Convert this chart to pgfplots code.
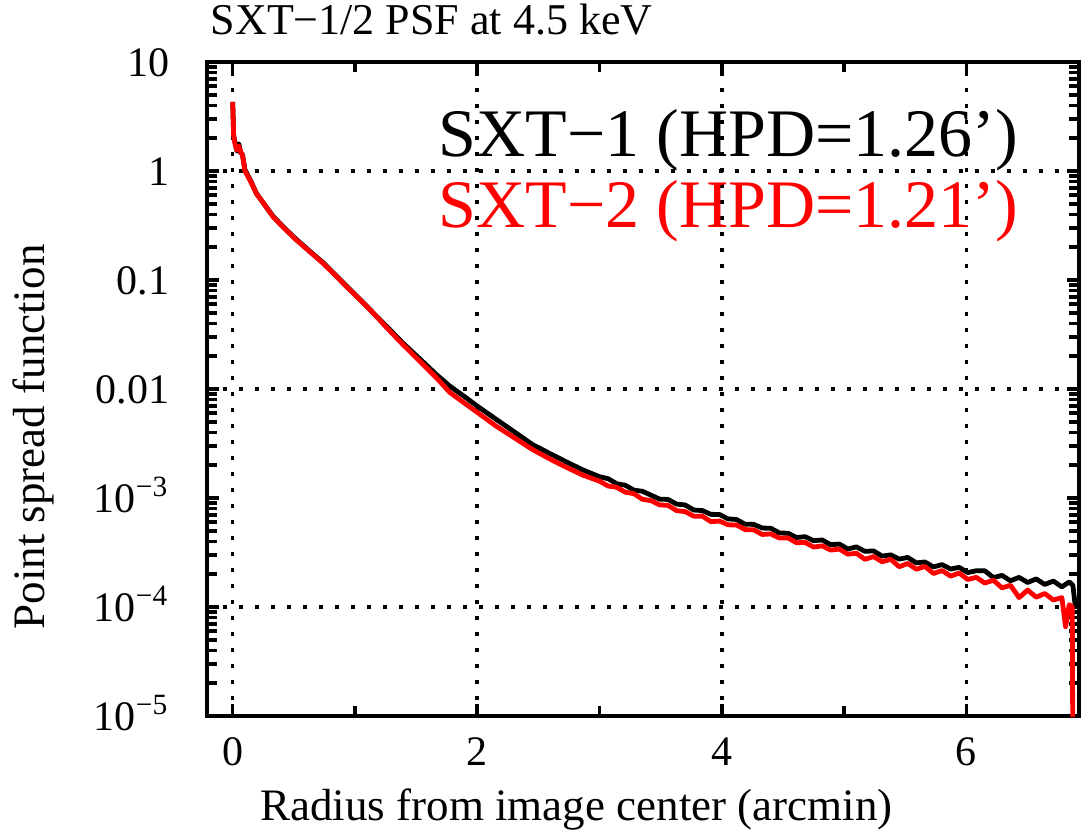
\documentclass[border=0pt]{standalone}
\usepackage{fontspec}
\setmainfont{Liberation Serif}
\usepackage{pgfplots}
\pgfplotsset{compat=1.18}
\usepackage{pgfplotstable}

\pgfplotstableread{
x y
0.000 4.3
0.008 2.1
0.020 1.82
0.035 1.52
0.050 1.78
0.065 1.47
0.080 1.42
0.100 1.03
0.150 0.80
0.194 0.625
0.250 0.51
0.330 0.385
0.420 0.302
0.520 0.236
0.630 0.184
0.740 0.144
0.830 0.114
0.930 0.0880
1.040 0.0665
1.147 0.0502
1.270 0.0365
1.390 0.0265
1.530 0.0189
1.668 0.0135
1.774 0.01066
1.890 0.0086
2.006 0.00689
2.160 0.00522
2.320 0.00392
2.450 0.0031
2.590 0.00257
2.730 0.00214
2.864 0.00181
3.00 1.567e-3
3.07 1.503e-3
3.14 1.352e-3
3.21 1.309e-3
3.28 1.180e-3
3.35 1.153e-3
3.42 1.062e-3
3.49 9.77e-4
3.56 9.70e-4
3.63 8.79e-4
3.70 8.63e-4
3.77 7.76e-4
3.84 7.67e-4
3.91 7.08e-4
3.98 7.06e-4
4.05 6.44e-4
4.12 6.35e-4
4.19 5.74e-4
4.26 5.73e-4
4.33 5.30e-4
4.40 5.28e-4
4.47 4.78e-4
4.54 4.75e-4
4.61 4.34e-4
4.68 4.42e-4
4.75 4.06e-4
4.82 4.12e-4
4.89 3.73e-4
4.96 3.78e-4
5.03 3.41e-4
5.10 3.56e-4
5.17 3.24e-4
5.24 3.27e-4
5.31 2.93e-4
5.38 3.01e-4
5.45 2.75e-4
5.52 2.85e-4
5.59 2.54e-4
5.66 2.59e-4
5.73 2.33e-4
5.80 2.45e-4
5.87 2.23e-4
5.94 2.31e-4
6.01 2.07e-4
6.08 2.15e-4
6.15 2.15e-4
6.22 1.86e-4
6.29 1.95e-4
6.36 1.74e-4
6.43 1.87e-4
6.50 1.68e-4
6.57 1.81e-4
6.64 1.61e-4
6.71 1.73e-4
6.78 1.53e-4
6.84 1.70e-4
6.87 1.58e-4
6.89 1.00e-4
}\sxtone

\pgfplotstableread{
x y
0.000 4.3
0.008 2.1
0.020 1.75
0.035 1.55
0.050 1.70
0.065 1.50
0.080 1.40
0.100 1.00
0.150 0.79
0.194 0.62
0.250 0.51
0.330 0.38
0.420 0.30
0.520 0.233
0.630 0.182
0.740 0.142
0.830 0.113
0.930 0.087
1.040 0.066
1.147 0.050
1.270 0.0355
1.390 0.0257
1.530 0.0180
1.668 0.0126
1.774 0.00933
1.890 0.0075
2.006 0.00603
2.160 0.00452
2.320 0.00347
2.450 0.00279
2.590 0.00229
2.730 0.00191
2.864 0.00162
3.00 1.426e-3
3.07 1.288e-3
3.14 1.253e-3
3.21 1.132e-3
3.28 1.096e-3
3.35 9.73e-4
3.42 9.46e-4
3.49 8.65e-4
3.56 8.55e-4
3.63 7.66e-4
3.70 7.50e-4
3.77 6.81e-4
3.84 6.82e-4
3.91 6.07e-4
3.98 6.15e-4
4.05 5.68e-4
4.12 5.65e-4
4.19 5.13e-4
4.26 5.11e-4
4.33 4.63e-4
4.40 4.68e-4
4.47 4.29e-4
4.54 4.31e-4
4.61 3.89e-4
4.68 3.91e-4
4.75 3.55e-4
4.82 3.64e-4
4.89 3.33e-4
4.96 3.40e-4
5.03 3.05e-4
5.10 3.11e-4
5.17 2.74e-4
5.24 2.90e-4
5.31 2.60e-4
5.38 2.74e-4
5.45 2.34e-4
5.52 2.51e-4
5.59 2.22e-4
5.66 2.36e-4
5.73 2.03e-4
5.80 2.16e-4
5.87 1.92e-4
5.94 2.05e-4
6.01 1.79e-4
6.08 1.87e-4
6.15 1.66e-4
6.22 1.76e-4
6.29 1.50e-4
6.36 1.58e-4
6.43 1.22e-4
6.50 1.43e-4
6.57 1.23e-4
6.64 1.33e-4
6.71 1.16e-4
6.78 1.22e-4
6.81 6.6e-5
6.84 1.05e-4
6.865 1.0e-4
6.875 1e-7
}\sxttwo

\begin{document}
\begin{tikzpicture}
\begin{axis}[
  at={(0,0)}, anchor=south west,
  scale only axis, width=218bp, height=163.5bp,
  xmin=-0.21, xmax=6.92, ymin=1e-5, ymax=10,
  ymode=log,
  axis line style={line width=0.9bp},
  every tick/.style={black, line width=0.9bp},
  major tick length=3bp, minor tick length=2.6bp,
  xtick={0,2,4,6}, xticklabels={0,2,4,6}, minor xtick={1,3,5},
  ytick={1e-5,1e-4,1e-3,1e-2,1e-1,1,10},
  yticklabels={10\textsuperscript{−5},10\textsuperscript{−4},10\textsuperscript{−3},0.01,0.1,1,10},
  tick label style={font=\fontsize{10.5bp}{12bp}\selectfont},
  xticklabel style={anchor=base, inner sep=0pt, yshift=-12.25bp},
  yticklabel style={anchor=base east, inner sep=0pt, xshift=-9.25bp, yshift=-3.5bp},
  xmajorgrids,
  extra y ticks={1e-4,1e-2,1},
  extra y tick labels={},
  extra y tick style={grid=major},
  major grid style={black, line width=0.9bp, dash pattern=on 0.9bp off 3.1bp},
  /pgf/number format/assume math mode=true,
]
\addplot[black, line width=1.2bp, line join=round] table[x=x,y=y] {\sxtone};
\addplot[red, line width=1.2bp, line join=round] table[x=x,y=y] {\sxttwo};
\end{axis}
\node[anchor=base west, inner sep=0pt] at (0.75bp,170.25bp)
  {\fontsize{11bp}{13bp}\selectfont SXT−1/2 PSF at 4.5 keV};
\node[anchor=base west, inner sep=0pt] at (57.75bp,139.75bp)
  {\fontsize{17bp}{20bp}\selectfont SXT−1 (HPD=1.26’)};
\node[anchor=base west, inner sep=0pt, text=red] at (57.75bp,122bp)
  {\fontsize{17bp}{20bp}\selectfont SXT−2 (HPD=1.21’)};
\node[anchor=base, inner sep=0pt] at (92.4bp,-26bp)
  {\fontsize{11.25bp}{13bp}\selectfont Radius from image center (arcmin)};
\node[anchor=base, inner sep=0pt, rotate=90] at (-40.5bp,69.75bp)
  {\fontsize{11.25bp}{13bp}\selectfont Point spread function};
\pgfresetboundingbox
\useasboundingbox (-51.75bp,-28.5bp) rectangle (219.25bp,179bp);
\end{tikzpicture}
\end{document}
